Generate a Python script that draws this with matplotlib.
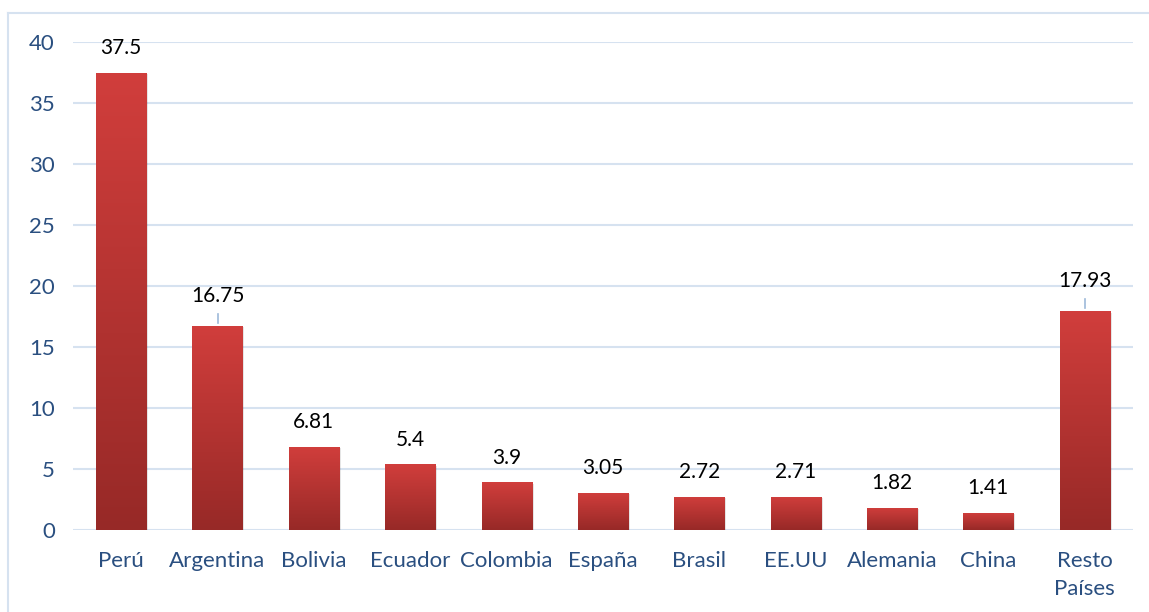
import numpy as np
import matplotlib
matplotlib.use("Agg")
import matplotlib.pyplot as plt
from matplotlib.colors import LinearSegmentedColormap
from matplotlib.patches import Rectangle

# --- DATOS ---
paises = ["Perú", "Argentina", "Bolivia", "Ecuador", "Colombia", "España",
          "Brasil", "EE.UU", "Alemania", "China", "Resto\nPaíses"]
valores = [37.5, 16.75, 6.81, 5.4, 3.9, 3.05, 2.72, 2.71, 1.82, 1.41, 17.93]
etiquetas = ["37.5", "16.75", "6.81", "5.4", "3.9", "3.05", "2.72", "2.71",
             "1.82", "1.41", "17.93"]
con_guia = ["Argentina", "Resto\nPaíses"]  # etiquetas con línea guía

plt.rcParams['font.family'] = ['Lato', 'DejaVu Sans']

fig = plt.figure(figsize=(11.49, 6.12), dpi=100)
ax = fig.add_axes([0.0635, 0.134, 0.9225, 0.797])

# borde claro del gráfico
fig.add_artist(plt.Line2D([0.007, 0.007], [0.0, 0.979], color="#D6E2F0", lw=1.5))
fig.add_artist(plt.Line2D([0.007, 1.0], [0.979, 0.979], color="#D6E2F0", lw=1.5))

x = np.arange(len(paises))
ancho = 0.52
cmap = LinearSegmentedColormap.from_list("rojo", ["#972927", "#D13E3C"])
grad = np.linspace(0, 1, 256).reshape(-1, 1)

bars = ax.bar(x, valores, width=ancho, color="none", zorder=3)
for b in bars:
    x0, y0 = b.get_x(), b.get_y()
    w, h = b.get_width(), b.get_height()
    # sombra suave
    ax.add_patch(Rectangle((x0 + 0.02, y0 - 0.12), w, h, color="#000000",
                           alpha=0.10, zorder=2, lw=0))
    im = ax.imshow(grad, cmap=cmap, aspect="auto", origin="lower",
                   extent=[x0, x0 + w, y0, y0 + h], zorder=3)
    im.set_clip_path(b)

for xi, v, lab, p in zip(x, valores, etiquetas, paises):
    if p in con_guia:
        ax.plot([xi, xi], [v + 0.25, v + 1.0], color="#9DB9D9", lw=1.2, zorder=4)
        dy = 1.65
    else:
        dy = 1.2
    ax.text(xi, v + dy, lab, ha="center", va="bottom", fontsize=15,
            color="black", zorder=4)

ax.set_xlim(-0.5, len(paises) - 0.5)
ax.set_ylim(0, 40)
ax.set_yticks(range(0, 41, 5))
ax.set_xticks(x)
ax.set_xticklabels(paises, color="#2A4F80", fontsize=16, linespacing=1.5,
                   va="top")
ax.tick_params(axis="y", labelcolor="#2A4F80", labelsize=16, length=0, pad=13)
ax.tick_params(axis="x", length=0, pad=15)
ax.grid(axis="y", color="#D6E2F0", lw=1.5, zorder=0)
ax.set_axisbelow(True)
for s in ax.spines.values():
    s.set_visible(False)

fig.savefig("out.png", dpi=100)
